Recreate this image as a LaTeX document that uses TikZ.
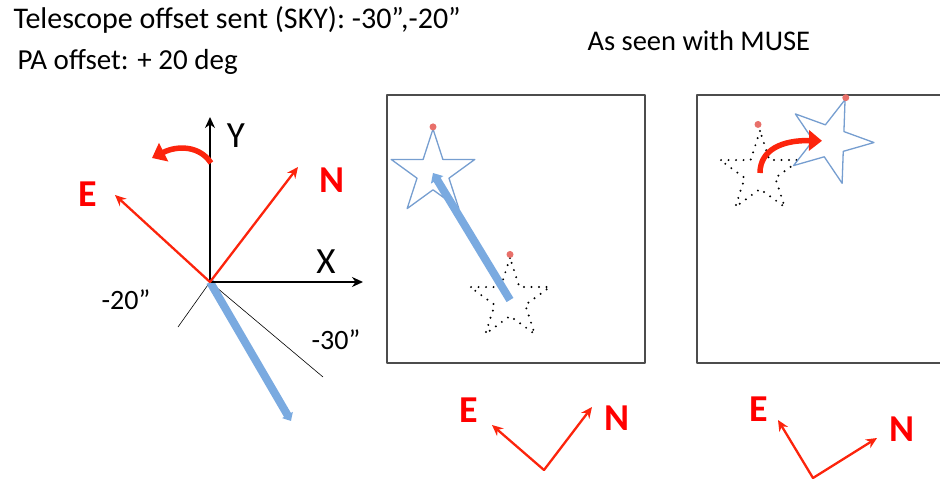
\documentclass[tikz,border=0pt]{standalone}
\usepackage{fontspec}
\setmainfont{Carlito}
\usetikzlibrary{arrows.meta,shapes.geometric}
\definecolor{skyred}{RGB}{252,36,12}
\definecolor{labred}{RGB}{255,0,0}
\definecolor{shiftblue}{RGB}{122,170,224}
\definecolor{starblue}{RGB}{118,158,208}
\definecolor{dotred}{RGB}{232,112,106}

\begin{document}
\begin{tikzpicture}[x=1pt, y=-1pt, >=stealth, line join=round, line cap=round,
	txt/.style={font=\fontsize{30}{34}\selectfont, anchor=base west},
	axis/.style={-{Stealth[length=11pt,width=10pt]}, line width=2pt},
	sky/.style={-{Stealth[length=11pt,width=10pt]}, skyred, line width=2.3pt},
	offs/.style={black, line width=0.6pt},
	skylab/.style={labred, font=\fontsize{38}{42}\selectfont\bfseries},
	axlab/.style={font=\fontsize{37}{41}\selectfont},
	offlab/.style={font=\fontsize{28}{32}\selectfont},
	moveline/.style={-{Triangle[length=8pt,width=14pt]}, shiftblue, line width=8pt, line cap=butt},
	turn/.style={-{Triangle[length=13pt,width=20pt]}, skyred, line width=5.5pt, line cap=butt},
	frame/.style={draw=black!70, line width=1.5pt},
	newstar/.style={star, star points=5, star point ratio=2.618, minimum size=88pt, inner sep=0pt, draw=starblue, line width=1.3pt, fill=white},
	oldstar/.style={star, star points=5, star point ratio=2.618, minimum size=84pt, inner sep=0pt, draw=black, line width=2.2pt, dash pattern=on 0pt off 7.5pt}]
	\useasboundingbox (0,0) rectangle (940,481);

	% Texts
	\node[txt] (t1) at (10,29) {Telescope offset sent (SKY): -30”,-20”};
	\node[txt, font=\fontsize{29}{33}\selectfont] (t2) at (14,70) {PA offset: + 20 deg};
	\node[txt, font=\fontsize{28.5}{33}\selectfont] (t3) at (584,51) {As seen with MUSE};

	% Coordinates
	\coordinate (O) at (210,282);
	\coordinate (Ytip) at (210,117);
	\coordinate (Xtip) at (363,282);
	\coordinate (Ntip) at (298,167);
	\coordinate (Etip) at (115,195);
	\coordinate (Woff) at (178,327);
	\coordinate (Soff) at (323,377);
	\coordinate (Btip) at (291,421);

	% Offsets
	\draw[offs] (O) -- (Woff);
	\draw[offs] (O) -- (Soff);
	\draw[moveline, -{Triangle[length=7pt,width=12pt]}] (O) -- (Btip);

	% Axes
	\draw[axis] (O) -- (Ytip);
	\draw[axis] (O) -- (Xtip);
	\node[axlab] (labY) at (236,136) {Y};
	\node[axlab] (labX) at (326,262) {X};
	\node[offlab] (lab20) at (126,300) {-20”};
	\node[offlab] (lab30) at (336,340) {-30”};

	% Sky
	\draw[sky] (O) -- (Ntip);
	\draw[sky] (O) -- (Etip);
	\node[skylab] (labN) at (332,180) {N};
	\node[skylab] (labE) at (88,194) {E};
	\draw[turn] (211,163) .. controls (200,146) and (178,145) .. (152,158);

	% MUSE field 1
	\draw[frame] (387,95) rectangle (645,363);
	\node[oldstar] (old1) at (510,300) {};
	\node[newstar] (new1) at (433,173) {};
	\fill[dotred] (old1.outer point 1) circle (3.5pt);
	\fill[dotred] (new1.outer point 1) circle (3.5pt);
	\draw[moveline] (old1.center) -- (new1.center);

	% MUSE field 2
	\draw[frame] (946,95) -- (697,95) -- (697,363) -- (946,363);
	\node[oldstar] (old2) at (760,173) {};
	\node[newstar, rotate=-20] (new2) at (830,141) {};
	\fill[dotred] ([shift={(-2,-3)}]old2.outer point 1) circle (3.5pt);
	\fill[dotred] (new2.outer point 1) circle (3.5pt);
	\draw[turn, shorten >=8pt] (old2.center) .. controls (760,150) and (782,140) .. (new2.center);

	% Compass 1
	\coordinate (B1) at (544,470);
	\coordinate (E1) at (492,425);
	\coordinate (N1) at (592,407);
	\draw[sky] (B1) -- (E1);
	\draw[sky] (B1) -- (N1);
	\node[skylab] (labE1) at (469,410) {E};
	\node[skylab] (labN1) at (617,418) {N};

	% Compass 2
	\coordinate (B2) at (813,478);
	\coordinate (E2) at (778,420);
	\coordinate (N2) at (877,438);
	\draw[sky] (B2) -- (E2);
	\draw[sky] (B2) -- (N2);
	\node[skylab] (labE2) at (759,409) {E};
	\node[skylab] (labN2) at (902,429) {N};
\end{tikzpicture}
\end{document}
